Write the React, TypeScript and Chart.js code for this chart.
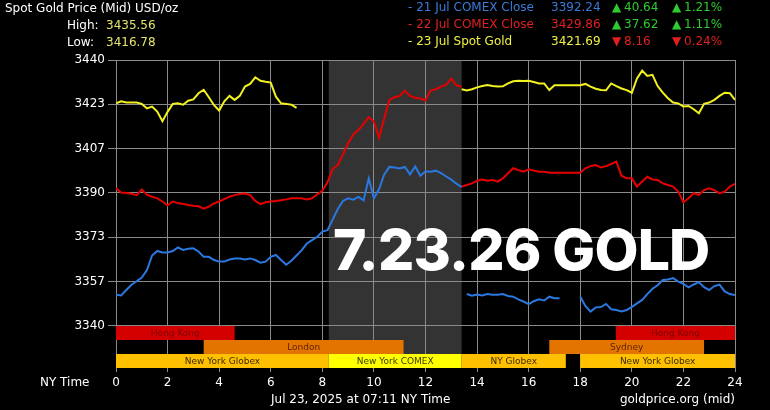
import React, { useEffect, useRef } from "react";
import { Chart, registerables } from "chart.js";

Chart.register(...registerables);

// ---------- data ----------
const HOURS_DAY = [
  0, 0.2, 0.4, 0.6, 0.8, 1, 1.2, 1.4, 1.6, 1.8,
  2, 2.2, 2.4, 2.6, 2.8, 3, 3.2, 3.4, 3.6, 3.8,
  4, 4.2, 4.4, 4.6, 4.8, 5, 5.2, 5.4, 5.6, 5.8,
  6, 6.2, 6.4, 6.6, 6.8, 7, 7.2, 7.4, 7.6, 7.8,
  8, 8.2, 8.4, 8.6, 8.8, 9, 9.2, 9.4, 9.6, 9.8,
  10, 10.2, 10.4, 10.6, 10.8, 11, 11.2, 11.4, 11.6, 11.8,
  12, 12.2, 12.4, 12.6, 12.8, 13, 13.2, 13.4,
];
const HOURS_EVE = [
  13.4, 13.6, 13.8, 14, 14.2, 14.4, 14.6, 14.8, 15, 15.2,
  15.4, 15.6, 15.8, 16, 16.2, 16.4, 16.6, 16.8, 17, 17.2,
  17.4, 17.6, 17.8, 18, 18.2, 18.4, 18.6, 18.8, 19, 19.2,
  19.4, 19.6, 19.8, 20, 20.2, 20.4, 20.6, 20.8, 21, 21.2,
  21.4, 21.6, 21.8, 22, 22.2, 22.4, 22.6, 22.8, 23, 23.2,
  23.4, 23.6, 23.8, 24,
];

// 21 Jul COMEX (blue)
const BLUE_DAY = [
  3351.7, 3351.5, 3353.5, 3355.5, 3356.8, 3358.2, 3361.0, 3366.5, 3368.2, 3367.6,
  3367.6, 3368.2, 3369.5, 3368.6, 3369.0, 3369.2, 3368.0, 3366.0, 3366.0, 3364.8,
  3364.2, 3364.2, 3365.0, 3365.4, 3365.4, 3365.0, 3365.4, 3364.8, 3363.8, 3364.2,
  3366.0, 3366.7, 3364.8, 3363.0, 3364.5, 3366.5, 3368.5, 3371.0, 3372.3, 3373.5,
  3375.5, 3376.0, 3380.0, 3384.0, 3387.0, 3388.0, 3387.5, 3388.5, 3387.2, 3395.5,
  3388.0, 3391.5, 3397.0, 3399.8, 3399.6, 3399.2, 3399.8, 3397.0, 3400.0, 3396.5,
  3398.2, 3398.0, 3398.4, 3397.5, 3396.2, 3395.0, 3393.5, 3392.2,
];
const BLUE_EVE = [
  null, 3352.0, 3351.4, 3351.8, 3351.5, 3352.0, 3351.7, 3351.7, 3352.0, 3351.3,
  3351.0, 3350.0, 3349.2, 3348.2, 3349.3, 3350.0, 3349.6, 3351.0, 3350.4, 3350.4,
  null, null, null, 3351.0, 3347.5, 3345.4, 3347.0, 3347.1, 3348.3, 3346.3,
  3346.0, 3345.5, 3346.0, 3347.2, 3348.5, 3349.8, 3352.0, 3354.0, 3355.3, 3357.3,
  3357.5, 3358.0, 3356.7, 3355.8, 3354.5, 3355.6, 3356.5, 3354.6, 3353.5, 3355.0,
  3355.5, 3353.0, 3352.0, 3351.6,
];

// 22 Jul COMEX (red)
const RED_DAY = [
  3391.8, 3390.2, 3390.0, 3389.7, 3389.2, 3391.3, 3389.3, 3388.6, 3388.0, 3386.8,
  3385.4, 3386.8, 3386.2, 3385.9, 3385.5, 3385.2, 3385.0, 3384.1, 3384.9, 3386.1,
  3386.8, 3387.7, 3388.6, 3389.2, 3389.6, 3389.8, 3389.2, 3387.0, 3385.8, 3386.5,
  3386.8, 3387.0, 3387.3, 3387.6, 3388.0, 3388.0, 3388.0, 3387.6, 3388.0, 3389.5,
  3390.8, 3394.0, 3399.0, 3400.5, 3404.5, 3408.7, 3412.0, 3413.7, 3416.0, 3418.5,
  3416.8, 3410.8, 3418.0, 3425.0, 3426.0, 3426.5, 3428.5, 3426.5, 3425.8, 3425.5,
  3424.8, 3428.6, 3429.0, 3430.0, 3430.6, 3433.0, 3430.5, 3429.9,
];
const RED_EVE = [
  3392.4, 3393.0, 3393.6, 3394.6, 3395.1, 3394.6, 3394.9, 3394.3, 3395.5, 3397.4,
  3399.3, 3398.6, 3398.0, 3398.9, 3398.4, 3398.0, 3398.0, 3397.6, 3397.6, 3397.6,
  3397.6, 3397.6, 3397.6, 3397.6, 3399.3, 3400.1, 3400.5, 3399.6, 3400.1, 3400.9,
  3401.8, 3396.5, 3395.5, 3395.5, 3392.4, 3394.3, 3396.1, 3395.1, 3394.9, 3393.6,
  3393.0, 3392.4, 3390.5, 3386.5, 3388.0, 3389.9, 3389.3, 3391.1, 3391.8, 3391.1,
  3389.9, 3390.5, 3392.4, 3393.4,
];

// 23 Jul Spot (yellow)
const YELLOW_DAY = [
  3423.7, 3424.5, 3424.0, 3424.0, 3424.0, 3423.5, 3421.8, 3422.5, 3420.6, 3417.0,
  3420.5, 3423.5, 3423.7, 3423.2, 3424.7, 3425.2, 3427.5, 3428.8, 3426.0, 3423.0,
  3421.0, 3424.5, 3426.5, 3425.0, 3426.5, 3430.0, 3431.0, 3433.5, 3432.2, 3431.8,
  3431.5, 3426.2, 3423.7, 3423.5, 3423.2, 3422.0, null, null, null, null,
  null, null, null, null, null, null, null, null, null, null,
  null, null, null, null, null, null, null, null, null, null,
  null, null, null, null, null, null, null, null,
];
const YELLOW_EVE = [
  3429.0, 3428.5, 3429.0, 3429.7, 3430.2, 3430.6, 3430.2, 3430.0, 3430.1, 3431.2,
  3432.0, 3432.2, 3432.1, 3432.2, 3431.7, 3431.2, 3431.2, 3428.7, 3430.5, 3430.5,
  3430.5, 3430.5, 3430.5, 3430.5, 3431.0, 3430.0, 3429.2, 3428.7, 3428.6, 3431.2,
  3430.2, 3429.3, 3428.7, 3427.7, 3433.1, 3436.0, 3434.0, 3434.4, 3430.2, 3427.7,
  3425.6, 3424.0, 3423.7, 3422.5, 3422.7, 3421.5, 3420.0, 3423.5, 3424.0, 3425.0,
  3426.5, 3427.7, 3427.5, 3425.0,
];

const X_TICKS = [0, 2, 4, 6, 8, 10, 12, 14, 16, 18, 20, 22, 24];
const Y_TICKS = [3340, 3356.67, 3373.33, 3390, 3406.67, 3423.33, 3440];
const Y_MIN = 3324.2;
const Y_MAX = 3440;

const COMEX_SHADE = [8.25, 13.4];
const ROW_BANDS = [
  [3334.73, 3340],
  [3329.47, 3334.73],
  [3324.2, 3329.47],
];
const SESSIONS = [
  { name: "Hong Kong", start: 0, end: 4.6, row: 0, color: "#d40000", text: "#7a0000" },
  { name: "Hong Kong", start: 19.38, end: 24, row: 0, color: "#d40000", text: "#7a0000" },
  { name: "London", start: 3.4, end: 11.15, row: 1, color: "#e47400", text: "#5a1e00" },
  { name: "Sydney", start: 16.8, end: 22.8, row: 1, color: "#e47400", text: "#5a1e00" },
  { name: "New York Globex", start: 0, end: 8.25, row: 2, color: "#ffc000", text: "#3a2a00" },
  { name: "New York COMEX", start: 8.25, end: 13.4, row: 2, color: "#ffff00", text: "#3a3a00" },
  { name: "NY Globex", start: 13.4, end: 17.44, row: 2, color: "#ffc000", text: "#3a2a00" },
  { name: "New York Globex", start: 18, end: 24, row: 2, color: "#ffc000", text: "#3a2a00" },
];

const LEGEND_ROWS = [
  { label: "- 21 Jul COMEX Close", price: "3392.24", chg: "40.64", pct: "1.21%", up: true, color: "#3a7ad8" },
  { label: "- 22 Jul COMEX Close", price: "3429.86", chg: "37.62", pct: "1.11%", up: true, color: "#e02020" },
  { label: "- 23 Jul Spot Gold", price: "3421.69", chg: "8.16", pct: "0.24%", up: false, color: "#f0f040" },
];

const BLUE = "#2a78e0";
const RED = "#e60000";
const YELLOW = "#f2f21e";
const GRID = "#8a8a8a";
const SHADE = "#333333";
const FONT = "'DejaVu Sans', Verdana, sans-serif";

function pts(hours: number[], vals: (number | null)[]) {
  return hours.map((h, i) => ({ x: h, y: vals[i] }));
}

const decorPlugin = {
  id: "decor",
  beforeDraw(chart: any) {
    const { ctx, chartArea, scales } = chart;
    const x = scales.x;
    ctx.save();
    ctx.fillStyle = "#000";
    ctx.fillRect(0, 0, chart.width, chart.height);
    const x0 = x.getPixelForValue(COMEX_SHADE[0]);
    const x1 = x.getPixelForValue(COMEX_SHADE[1]);
    ctx.fillStyle = SHADE;
    ctx.fillRect(x0, chartArea.top, x1 - x0, chartArea.bottom - chartArea.top);
    ctx.restore();
  },
  beforeDatasetsDraw(chart: any) {
    const { ctx, scales } = chart;
    const x = scales.x;
    const y = scales.y;
    ctx.save();
    ctx.font = `9px ${FONT}`;
    ctx.textAlign = "center";
    ctx.textBaseline = "middle";
    SESSIONS.forEach((s) => {
      const xa = x.getPixelForValue(s.start);
      const xb = x.getPixelForValue(s.end);
      const band = ROW_BANDS[s.row];
      const ya = y.getPixelForValue(band[1]);
      const yb = y.getPixelForValue(band[0]);
      ctx.fillStyle = s.color;
      ctx.fillRect(xa, ya, xb - xa, yb - ya);
      ctx.fillStyle = s.text;
      ctx.fillText(s.name, (xa + xb) / 2, (ya + yb) / 2 + 0.5);
    });
    ctx.restore();
  },
};

function Label(props: { x: number; y: number; text: string; color: string; size?: number; right?: boolean }) {
  const size = props.size ?? 12;
  const style: any = {
    position: "absolute",
    top: props.y - 7,
    fontFamily: FONT,
    fontSize: size,
    lineHeight: "14px",
    color: props.color,
    whiteSpace: "nowrap",
  };
  if (props.right) style.right = 770 - props.x;
  else style.left = props.x;
  return <div style={style}>{props.text}</div>;
}

export default function App() {
  const ref = useRef<HTMLCanvasElement | null>(null);

  useEffect(() => {
    if (!ref.current) return;
    const lineDs = (data: any, color: string) => ({
      data,
      borderColor: color,
      borderWidth: 2,
      pointRadius: 0,
      tension: 0,
      spanGaps: false,
      fill: false,
    });
    const chart = new Chart(ref.current, {
      type: "line",
      data: {
        datasets: [
          lineDs(pts(HOURS_DAY, BLUE_DAY), BLUE),
          lineDs(pts(HOURS_EVE, BLUE_EVE), BLUE),
          lineDs(pts(HOURS_DAY, RED_DAY), RED),
          lineDs(pts(HOURS_EVE, RED_EVE), RED),
          lineDs(pts(HOURS_DAY, YELLOW_DAY), YELLOW),
          lineDs(pts(HOURS_EVE, YELLOW_EVE), YELLOW),
        ] as any,
      },
      options: {
        animation: false,
        responsive: false,
        maintainAspectRatio: false,
        layout: { padding: { top: 60, right: 35, left: 0, bottom: 0 } },
        plugins: { legend: { display: false }, tooltip: { enabled: false } },
        scales: {
          x: {
            type: "linear",
            min: 0,
            max: 24,
            afterBuildTicks: (s: any) => {
              s.ticks = X_TICKS.map((v) => ({ value: v }));
            },
            afterFit: (s: any) => {
              s.height = 42;
            },
            grid: { color: GRID, lineWidth: 1, tickLength: 4, drawTicks: true },
            border: { display: false },
            ticks: {
              color: "#ffffff",
              font: { family: FONT, size: 12 },
              padding: 4,
              maxRotation: 0,
              autoSkip: false,
            },
          },
          y: {
            type: "linear",
            min: Y_MIN,
            max: Y_MAX,
            afterBuildTicks: (s: any) => {
              s.ticks = Y_TICKS.map((v) => ({ value: v }));
            },
            afterFit: (s: any) => {
              s.width = 116;
            },
            grid: { color: GRID, lineWidth: 1, tickLength: 8, drawTicks: true },
            border: { display: false },
            ticks: {
              color: "#ffffff",
              font: { family: FONT, size: 12 },
              padding: 3,
              callback: (v: any) => String(Math.round(Number(v))),
            },
          },
        },
      } as any,
      plugins: [decorPlugin],
    });
    return () => chart.destroy();
  }, []);

  return (
    <div style={{ position: "relative", width: 770, height: 410, background: "#000", overflow: "hidden" }}>
      <style>{"body{margin:0;background:#000}"}</style>
      <canvas ref={ref} width={770} height={410} style={{ display: "block", position: "absolute", left: 0, top: 0 }} />
      <Label x={5} y={8} text="Spot Gold Price (Mid) USD/oz" color="#ffffff" />
      <Label x={67} y={25} text="High:" color="#ffffff" />
      <Label x={106} y={25} text="3435.56" color="#e4e46c" />
      <Label x={67} y={42} text="Low:" color="#ffffff" />
      <Label x={106} y={42} text="3416.78" color="#e4e46c" />
      {LEGEND_ROWS.map((r, i) => {
        const cy = 7 + i * 16.8;
        const c = r.up ? "#2ecc2e" : "#e02020";
        const tri = r.up ? "▲" : "▼";
        return (
          <React.Fragment key={i}>
            <Label x={408} y={cy} text={r.label} color={r.color} />
            <Label x={551} y={cy} text={r.price} color={r.color} />
            <Label x={612} y={cy} text={tri} color={c} />
            <Label x={624} y={cy} text={r.chg} color={c} />
            <Label x={672} y={cy} text={tri} color={c} />
            <Label x={684} y={cy} text={r.pct} color={c} />
          </React.Fragment>
        );
      })}
      <Label x={40} y={382} text="NY Time" color="#ffffff" />
      <Label x={271} y={399} text="Jul 23, 2025 at 07:11 NY Time" color="#ffffff" />
      <Label x={735} y={399} text="goldprice.org (mid)" color="#ffffff" right />
      <div
        style={{
          position: "absolute",
          left: 333,
          top: 221,
          fontFamily: "Inter, 'Open Sans', sans-serif",
          fontWeight: 800,
          fontSize: 57,
          letterSpacing: "-0.8px",
          lineHeight: "58px",
          color: "#ffffff",
          whiteSpace: "nowrap",
        }}
      >
        7.23.26 GOLD
      </div>
    </div>
  );
}
